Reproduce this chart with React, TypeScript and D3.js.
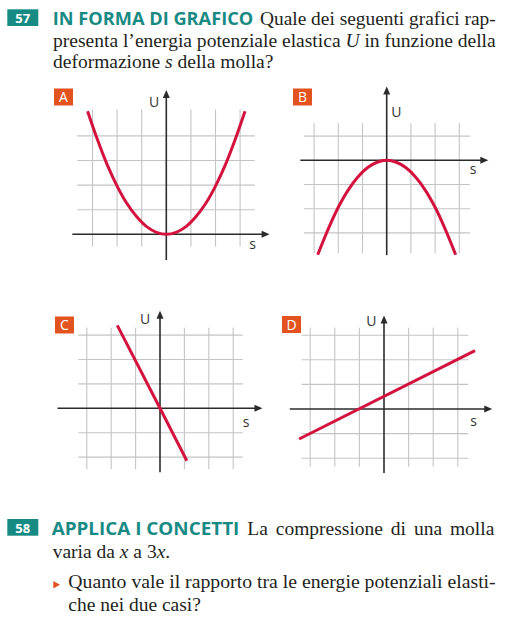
import React, { useEffect } from "react";
import * as d3 from "d3";

// curve data (s, U)
const sA = [-3.2, -2.8, -2.4, -2, -1.6, -1.2, -0.8, -0.4, 0, 0.4, 0.8, 1.2, 1.6, 2, 2.4, 2.8, 3.2];
const uA = [5.0, 3.85, 2.82, 1.96, 1.25, 0.71, 0.31, 0.08, 0, 0.08, 0.31, 0.71, 1.25, 1.96, 2.82, 3.85, 5.0];
const sB = [-2.85, -2.4, -2, -1.6, -1.2, -0.8, -0.4, 0, 0.4, 0.8, 1.2, 1.6, 2, 2.4, 2.85];
const uB = [-3.9, -2.8, -1.94, -1.24, -0.7, -0.31, -0.08, 0, -0.08, -0.31, -0.7, -1.24, -1.94, -2.8, -3.9];
const sC = [-1.75, 0, 1.1];
const uC = [3.4, 0, -2.15];
const sD = [-3.45, 3.7];
const uD = [-1.22, 2.37];

// grid ticks
const gridS = [-3, -2, -1, 1, 2, 3];
const gridUA = [1, 2, 3, 4];
const gridUB = [1, -1, -2, -3];
const gridUCD = [3, 2, 1, -1, -2];

const RED = "#d3123d";
const GRID = "#c4c4c4";
const AXIS = "#2b2b2b";
const ORANGE = "#e2531f";
const TEAL = "#178a84";
const INK = "#231f20";

const SERIF = { fontFamily: "'Liberation Serif', serif" };
const SANS = { fontFamily: "'Open Sans', sans-serif" };

type Panel = {
  key: string;
  ox: number;
  oy: number;
  unit: number;
  vLines: [number, number]; // U extent of vertical grid lines
  hLines: [number, number]; // s extent of horizontal grid lines
  xAxis: [number, number];
  yAxis: [number, number];
  gridU: number[];
  s: number[];
  u: number[];
  smooth: boolean;
  box: [number, number];
  uLab: [number, number];
  sLab: [number, number];
};

const panels: Panel[] = [
  {
    key: "A", ox: 166.3, oy: 234.3, unit: 24.6,
    vLines: [-0.5, 5.08], hLines: [-3.62, 3.6], xAxis: [-3.82, 4.2], yAxis: [-1.05, 5.87],
    gridU: gridUA, s: sA, u: uA, smooth: true,
    box: [54, 88.5], uLab: [154, 106.5], sLab: [252.5, 248.5],
  },
  {
    key: "B", ox: 386.7, oy: 160.3, unit: 24.2,
    vLines: [-3.84, 1.53], hLines: [-3.42, 3.44], xAxis: [-3.57, 4.2], yAxis: [-3.92, 3.05],
    gridU: gridUB, s: sB, u: uB, smooth: true,
    box: [293, 88.5], uLab: [396.3, 116.5], sLab: [473, 174],
  },
  {
    key: "C", ox: 160, oy: 408.3, unit: 24.4,
    vLines: [-2.5, 3.3], hLines: [-3.35, 3.39], xAxis: [-4.2, 4.2], yAxis: [-2.62, 4.0],
    gridU: gridUCD, s: sC, u: uC, smooth: false,
    box: [55, 316.5], uLab: [145, 324.3], sLab: [246, 426.7],
  },
  {
    key: "D", ox: 384, oy: 409, unit: 24.6,
    vLines: [-2.35, 3.3], hLines: [-3.35, 3.43], xAxis: [-3.83, 4.4], yAxis: [-2.6, 3.8],
    gridU: gridUCD, s: sD, u: uD, smooth: false,
    box: [282, 316], uLab: [371.3, 325.7], sLab: [473.7, 425.7],
  },
];

const Graph = ({ p }: { p: Panel }) => {
  const x = d3.scaleLinear().domain([0, 1]).range([p.ox, p.ox + p.unit]);
  const y = d3.scaleLinear().domain([0, 1]).range([p.oy, p.oy - p.unit]);
  const pts: [number, number][] = p.s.map((s, i) => [s, p.u[i]]);
  const line = d3
    .line<[number, number]>()
    .x((d) => x(d[0]))
    .y((d) => y(d[1]))
    .curve(p.smooth ? d3.curveCatmullRom : d3.curveLinear);
  const xe = x(p.xAxis[1]);
  const yt = y(p.yAxis[1]);
  return (
    <g>
      {gridS.map((s) => (
        <line key={"v" + s} x1={x(s)} x2={x(s)} y1={y(p.vLines[0])} y2={y(p.vLines[1])} stroke={GRID} strokeWidth={1.1} />
      ))}
      {p.gridU.map((u) => (
        <line key={"h" + u} x1={x(p.hLines[0])} x2={x(p.hLines[1])} y1={y(u)} y2={y(u)} stroke={GRID} strokeWidth={1.1} />
      ))}
      <line x1={x(p.xAxis[0])} x2={xe - 4} y1={p.oy} y2={p.oy} stroke={AXIS} strokeWidth={1.6} />
      <line x1={p.ox} x2={p.ox} y1={y(p.yAxis[0])} y2={yt + 4} stroke={AXIS} strokeWidth={1.6} />
      <path d={`M${xe},${p.oy} L${xe - 8},${p.oy - 3.5} L${xe - 8},${p.oy + 3.5} Z`} fill={AXIS} />
      <path d={`M${p.ox},${yt} L${p.ox - 3.5},${yt + 8} L${p.ox + 3.5},${yt + 8} Z`} fill={AXIS} />
      <path d={line(pts) || ""} fill="none" stroke={RED} strokeWidth={3} />
      <rect x={p.box[0]} y={p.box[1]} width={19} height={17} fill={ORANGE} />
      <text x={p.box[0] + 9.5} y={p.box[1] + 13.5} textAnchor="middle" fill="#fff" fontSize={14} style={SANS}>
        {p.key}
      </text>
      <text x={p.uLab[0]} y={p.uLab[1]} textAnchor="middle" fill="#333" fontSize={14} style={SANS}>U</text>
      <text x={p.sLab[0]} y={p.sLab[1]} textAnchor="middle" fill="#333" fontSize={14} style={SANS}>s</text>
    </g>
  );
};

export default function App() {
  useEffect(() => {
    document.body.style.margin = "0";
  }, []);

  return (
    <svg width={519} height={636} style={{ display: "block", background: "#fff" }}>
      {/* exercise 57 */}
      <rect x={7.3} y={9.3} width={31} height={16.7} fill={TEAL} />
      <text x={22.8} y={23} textAnchor="middle" fill="#fff" fontWeight={700} fontSize={13} style={SANS}>57</text>
      <text x={52.7} y={24.5} fill={TEAL} fontWeight={700} fontSize={17} textLength={200.6} lengthAdjust="spacingAndGlyphs" style={SANS}>
        IN FORMA DI GRAFICO
      </text>
      <text x={260} y={25} fill={INK} fontSize={19.5} textLength={235.7} lengthAdjust="spacingAndGlyphs" style={SERIF}>
        Quale dei seguenti grafici rap-
      </text>
      <text x={53} y={46.7} fill={INK} fontSize={19.5} textLength={442.7} lengthAdjust="spacingAndGlyphs" style={SERIF}>
        presenta l’energia potenziale elastica <tspan fontStyle="italic">U</tspan> in funzione della
      </text>
      <text x={53} y={68.3} fill={INK} fontSize={19.5} style={SERIF}>
        deformazione <tspan fontStyle="italic">s</tspan> della molla?
      </text>

      {panels.map((p) => (
        <Graph key={p.key} p={p} />
      ))}

      {/* exercise 58 */}
      <rect x={7.3} y={519} width={31} height={16.7} fill={TEAL} />
      <text x={22.8} y={532.7} textAnchor="middle" fill="#fff" fontWeight={700} fontSize={13} style={SANS}>58</text>
      <text x={51.7} y={535} fill={TEAL} fontWeight={700} fontSize={17} textLength={187.6} lengthAdjust="spacingAndGlyphs" style={SANS}>
        APPLICA I CONCETTI
      </text>
      <text x={247.3} y={535} fill={INK} fontSize={19.5} style={{ ...SERIF, wordSpacing: "3px" }}>
        La compressione di una molla
      </text>
      <text x={52.7} y={558.3} fill={INK} fontSize={19.5} style={SERIF}>
        varia da <tspan fontStyle="italic">x</tspan> a 3<tspan fontStyle="italic">x</tspan>.
      </text>
      <path d="M53.3,581 L60,584.7 L53.3,588.4 Z" fill={ORANGE} />
      <text x={68.3} y={588.3} fill={INK} fontSize={19.5} textLength={427.4} lengthAdjust="spacingAndGlyphs" style={SERIF}>
        Quanto vale il rapporto tra le energie potenziali elasti-
      </text>
      <text x={68.3} y={611} fill={INK} fontSize={19.5} style={SERIF}>
        che nei due casi?
      </text>
    </svg>
  );
}
